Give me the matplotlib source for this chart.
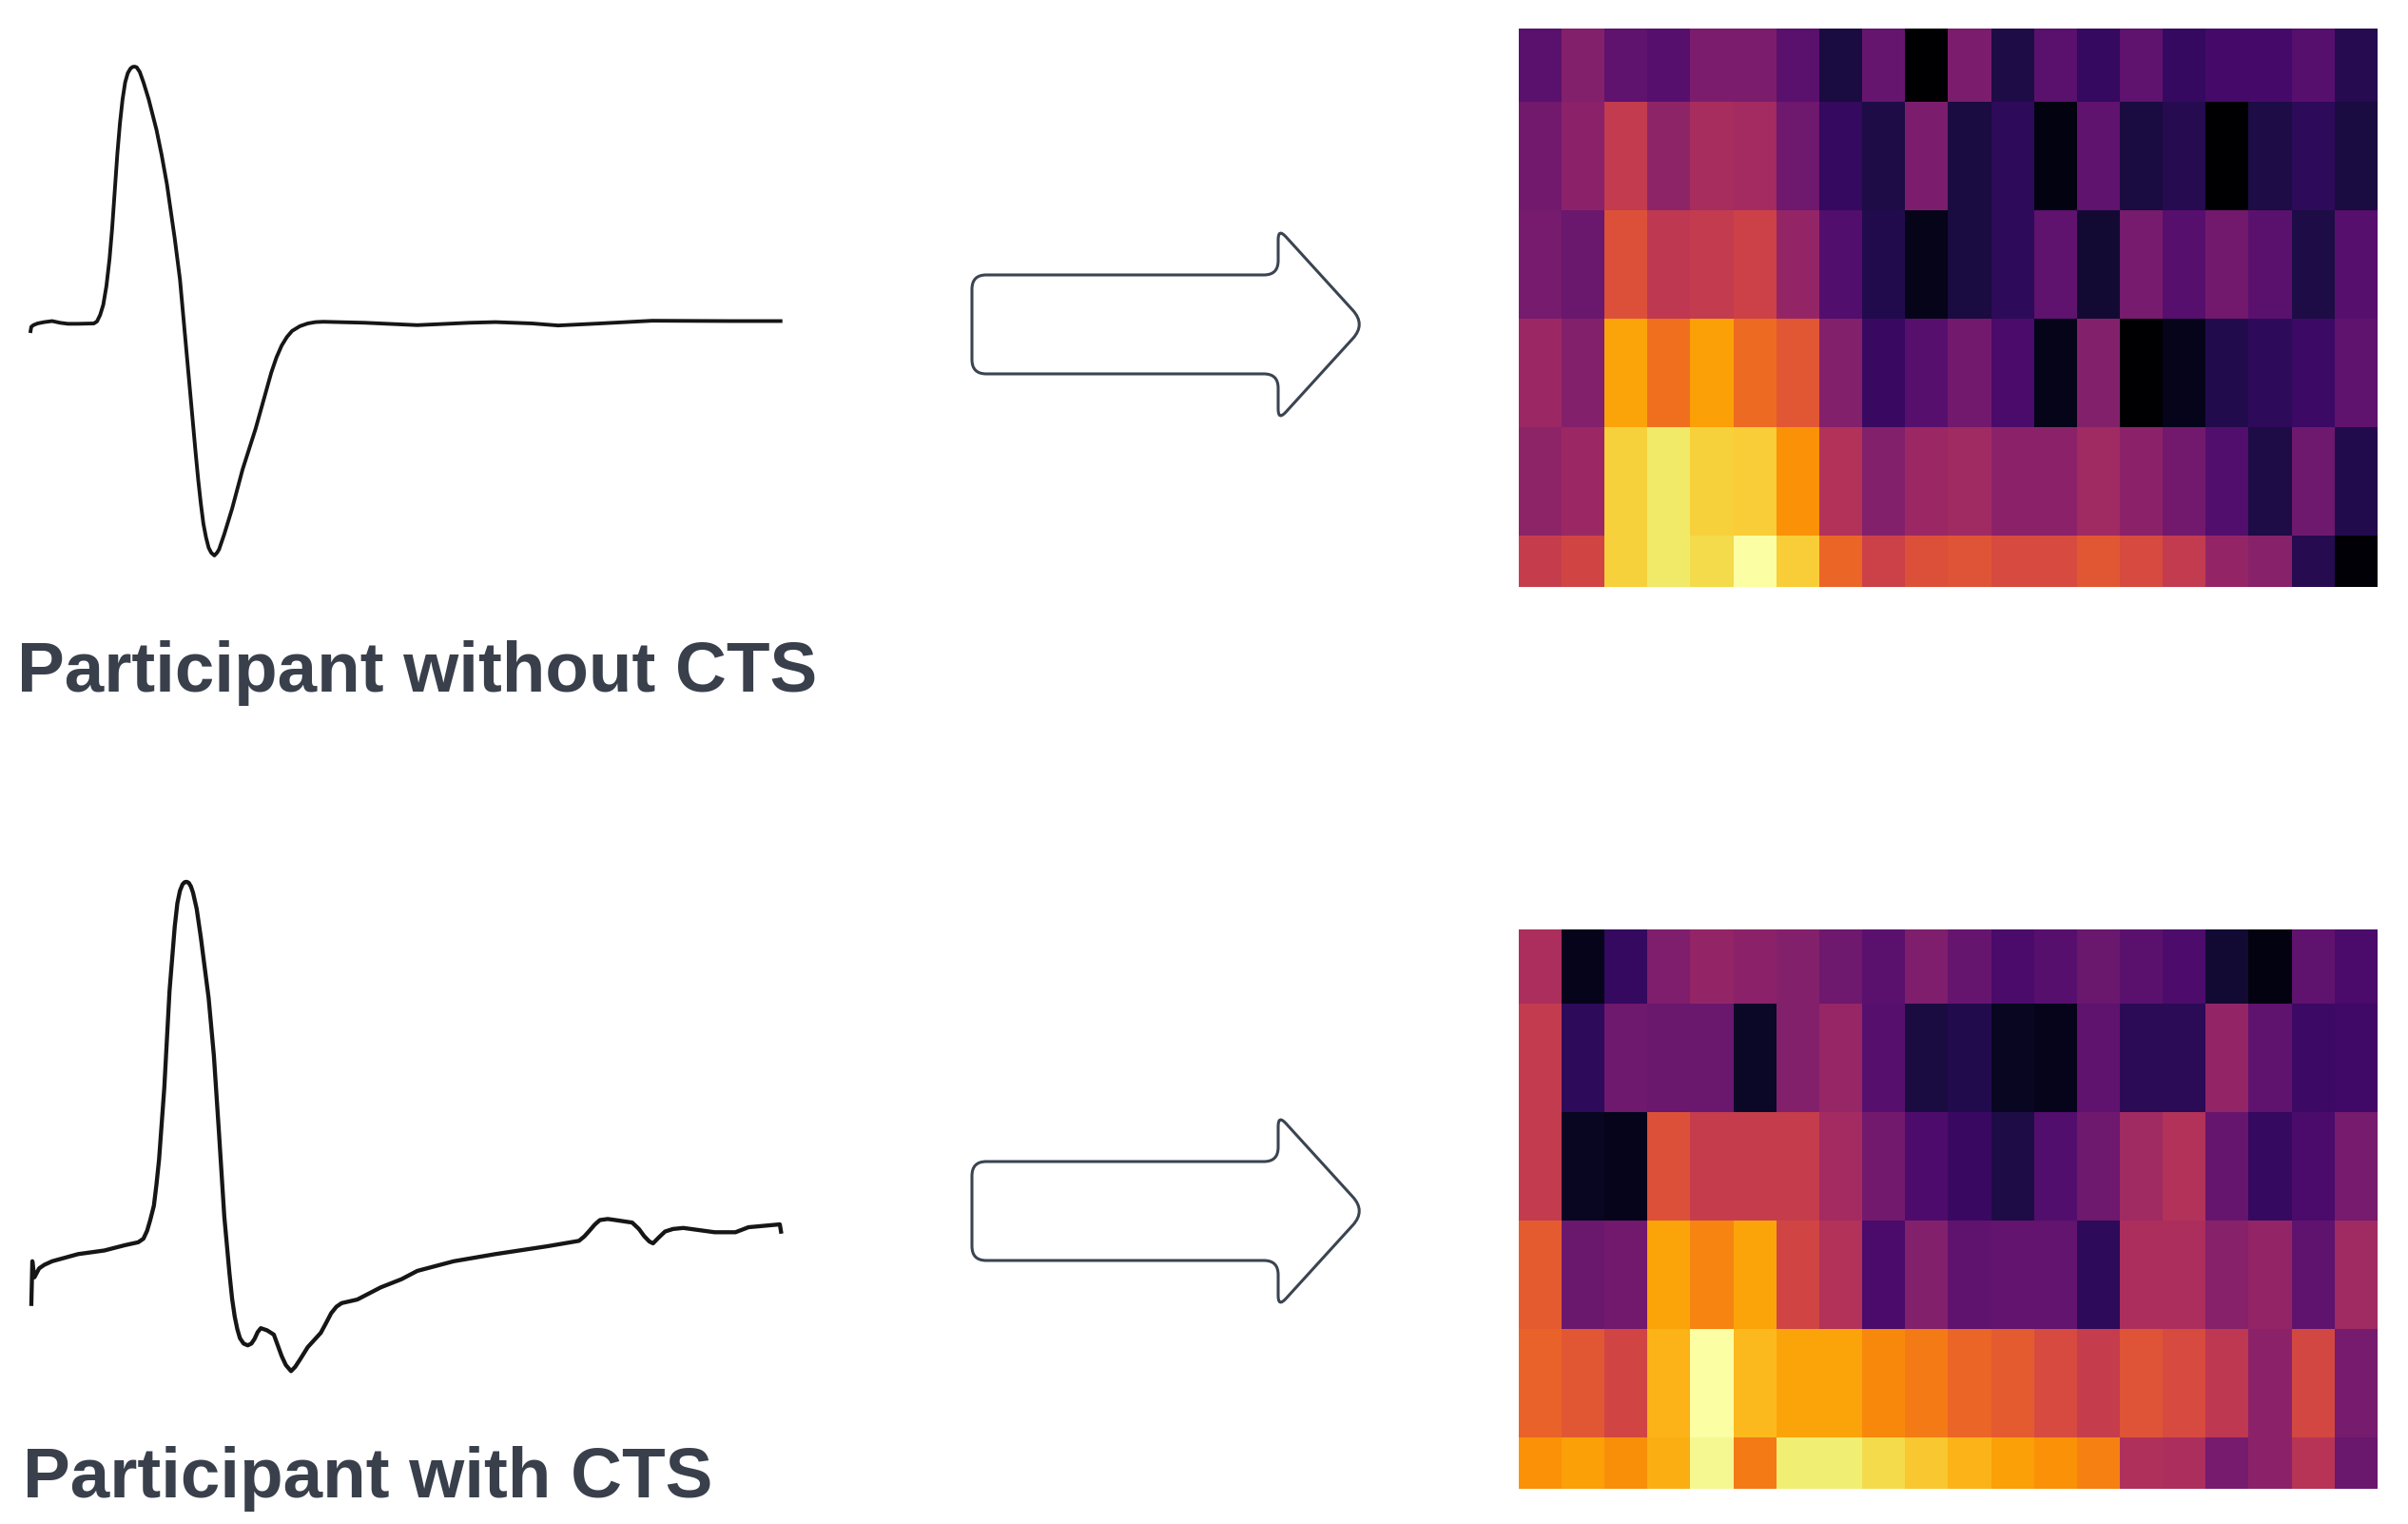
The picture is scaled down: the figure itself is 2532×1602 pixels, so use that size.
import numpy as np
import matplotlib
matplotlib.use("Agg")
import matplotlib.pyplot as plt
from matplotlib.path import Path
from matplotlib.patches import PathPatch

W, H = 2532, 1602

# Heatmap values (inferno scale, 0-1), 6 rows x 20 columns
heat_without = [
 [0.26,0.36,0.27,0.25,0.34,0.34,0.26,0.11,0.29,0.00,0.34,0.12,0.26,0.17,0.27,0.17,0.21,0.21,0.25,0.14],
 [0.32,0.38,0.52,0.39,0.45,0.44,0.31,0.17,0.12,0.34,0.11,0.16,0.03,0.27,0.11,0.14,0.00,0.12,0.16,0.11],
 [0.33,0.30,0.60,0.51,0.52,0.55,0.40,0.24,0.13,0.045,0.11,0.16,0.27,0.09,0.33,0.25,0.32,0.26,0.12,0.25],
 [0.42,0.36,0.80,0.68,0.79,0.67,0.62,0.36,0.18,0.25,0.32,0.22,0.045,0.36,0.00,0.05,0.13,0.16,0.19,0.27],
 [0.39,0.42,0.89,0.94,0.89,0.88,0.76,0.48,0.36,0.42,0.43,0.38,0.38,0.43,0.38,0.32,0.24,0.12,0.31,0.13],
 [0.53,0.56,0.89,0.94,0.91,1.00,0.88,0.66,0.55,0.60,0.61,0.58,0.58,0.62,0.58,0.52,0.40,0.37,0.14,0.01],
]
heat_with = [
 [0.46,0.05,0.17,0.35,0.40,0.38,0.36,0.31,0.26,0.35,0.29,0.22,0.25,0.30,0.26,0.23,0.09,0.03,0.27,0.22],
 [0.52,0.16,0.31,0.30,0.30,0.07,0.36,0.41,0.25,0.11,0.13,0.06,0.05,0.27,0.15,0.15,0.40,0.27,0.19,0.20],
 [0.52,0.06,0.05,0.60,0.53,0.53,0.53,0.44,0.32,0.23,0.18,0.12,0.24,0.31,0.43,0.48,0.29,0.17,0.22,0.33],
 [0.63,0.30,0.32,0.80,0.73,0.80,0.56,0.48,0.22,0.36,0.27,0.28,0.28,0.16,0.46,0.46,0.37,0.40,0.27,0.43],
 [0.65,0.62,0.56,0.83,1.00,0.84,0.80,0.80,0.74,0.71,0.66,0.63,0.58,0.53,0.61,0.58,0.51,0.38,0.57,0.33],
 [0.76,0.79,0.75,0.82,0.98,0.71,0.95,0.95,0.91,0.87,0.83,0.79,0.76,0.72,0.47,0.46,0.33,0.38,0.49,0.30],
]

# Traces (time, amplitude in reading units; amplitude grows downward)
t_without = [58,60,64,72,85,100,115,130,150,180,186,192,198,204,210,215,220,225,230,235,240,245,250,254,258,262,268,275,285,300,310,320,335,345,355,365,375,380,385,390,395,400,405,411,416,420,430,445,465,490,510,520,530,540,550,560,575,590,605,620,700,800,900,950,1020,1070,1150,1250,1400,1500]
a_without = [868,850,845,840,836,833,838,841,841,840,834,815,785,730,650,560,450,340,250,180,130,103,90,85,84,86,100,130,180,270,345,430,590,710,880,1050,1220,1300,1370,1430,1470,1500,1515,1523,1515,1505,1460,1385,1270,1150,1040,985,940,905,880,862,848,840,836,835,838,845,838,836,840,846,840,832,833,833]

t_with = [60,62,66,75,85,100,150,200,240,265,275,282,288,295,300,305,315,325,335,340,345,350,354,358,362,366,370,377,385,400,410,420,430,440,445,450,455,460,467,475,482,488,494,500,512,525,532,540,548,558,566,575,590,615,625,635,645,655,685,730,770,800,870,950,1050,1110,1120,1130,1140,1150,1165,1180,1212,1225,1235,1245,1252,1262,1275,1290,1310,1370,1410,1435,1495,1498]
a_with = [1230,1105,1150,1125,1115,1105,1085,1075,1060,1052,1042,1020,990,950,890,820,620,350,170,105,70,52,46,45,48,58,75,120,200,370,530,750,980,1140,1210,1260,1295,1320,1335,1340,1335,1322,1303,1292,1298,1310,1338,1370,1395,1412,1400,1380,1345,1305,1278,1250,1232,1222,1212,1178,1155,1132,1105,1085,1063,1048,1036,1020,1003,990,987,990,997,1015,1035,1050,1055,1040,1022,1015,1012,1024,1024,1010,1002,1028]

label_without = "Participant without CTS"
label_with = "Participant with CTS"

TEXT = "#39404b"
ARROW = "#3b4451"

fig = plt.figure(figsize=(W / 100, H / 100), dpi=100, facecolor="white")


def box(x0, y0, x1, y1):
    return [x0 / W, 1 - y1 / H, (x1 - x0) / W, (y1 - y0) / H]


def heat(vals, x0, y0, x1, y1):
    ax = fig.add_axes(box(x0, y0, x1, y1))
    ax.imshow(np.array(vals), cmap="inferno", vmin=0, vmax=1, aspect="auto", interpolation="nearest")
    ax.set_xlim(-0.5, 19.5)
    ax.set_ylim(4.975, -0.185)
    ax.axis("off")


def trace(t, a, x0, y0, x1, y1, lw):
    ax = fig.add_axes(box(x0, y0, x1, y1))
    ax.plot(t, a, color="#161616", lw=lw, solid_joinstyle="round", solid_capstyle="butt")
    ax.set_xlim(0, 1568)
    ax.set_ylim(1568, 0)
    ax.axis("off")


heat(heat_without, 1597, 29.5, 2500, 617)
heat(heat_with, 1597, 977, 2500, 1565)
trace(t_without, a_without, 0, 40, 860, 600, 2.8)
trace(t_with, a_with, 0, 910, 860, 1500, 3.1)

# Overlay in pixel units for the arrows and captions
ov = fig.add_axes([0, 0, 1, 1])
ov.set_xlim(0, W)
ov.set_ylim(H, 0)
ov.axis("off")
ov.patch.set_alpha(0)


def rounded(points, radii):
    verts, codes = [], []
    n = len(points)
    for i, (p, r) in enumerate(zip(points, radii)):
        p = np.array(p, float)
        a = np.array(points[i - 1], float)
        b = np.array(points[(i + 1) % n], float)
        s = p + (a - p) / np.linalg.norm(a - p) * r
        e = p + (b - p) / np.linalg.norm(b - p) * r
        verts += [s, p, e]
        codes += [Path.MOVETO if i == 0 else Path.LINETO, Path.CURVE3, Path.CURVE3]
    verts.append(verts[0])
    codes.append(Path.CLOSEPOLY)
    return Path(verts, codes)


def arrow(cy):
    pts = [(1022, cy - 52), (1344, cy - 52), (1344, cy - 101), (1436, cy),
           (1344, cy + 101), (1344, cy + 52), (1022, cy + 52)]
    rad = [15, 15, 12, 20, 12, 15, 15]
    ov.add_patch(PathPatch(rounded(pts, rad), fc="none", ec=ARROW, lw=2.2))


arrow(341)
arrow(1273)

ov.text(18, 727, label_without, family="Liberation Sans", weight="bold", fontsize=53.7, color=TEXT, va="baseline")
ov.text(24, 1574, label_with, family="Liberation Sans", weight="bold", fontsize=53.7, color=TEXT, va="baseline")

fig.savefig("out.png", dpi=100, facecolor="white")
